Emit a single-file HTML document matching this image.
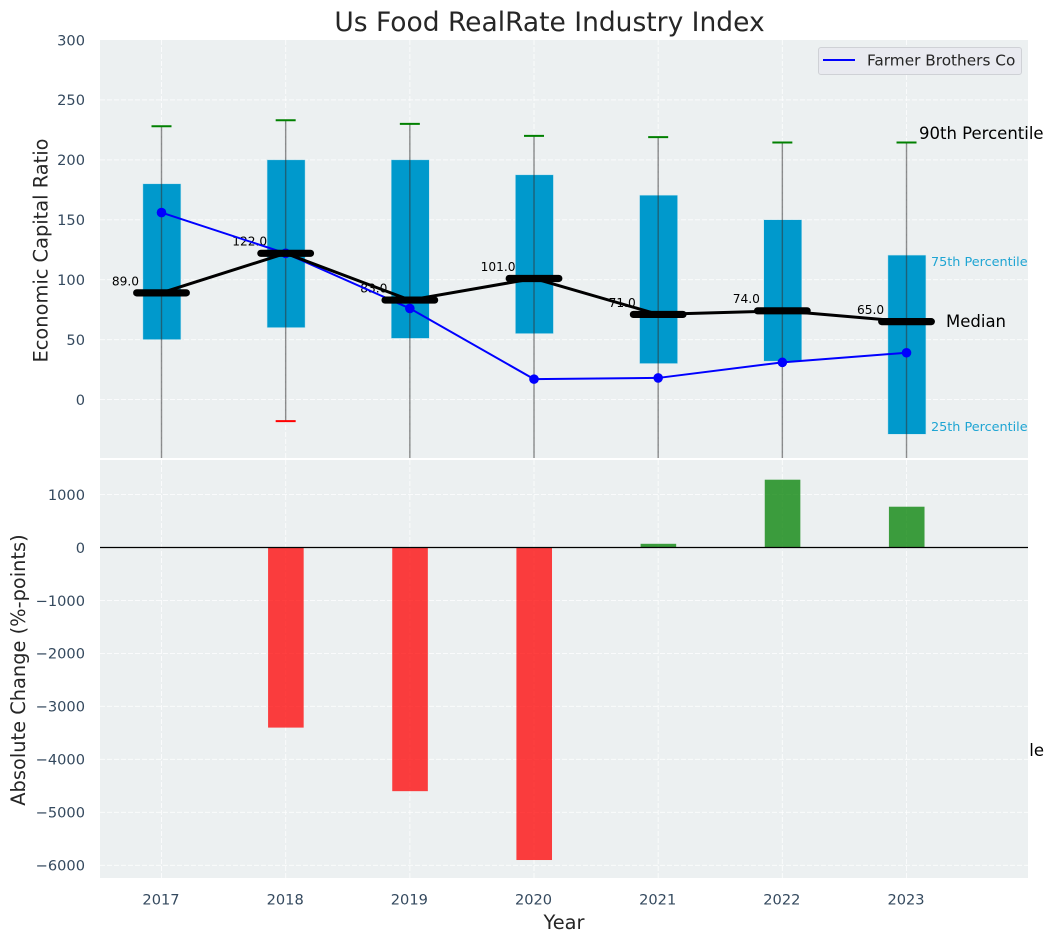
<!DOCTYPE html>
<html>
<head>
<meta charset="utf-8">
<title>Us Food RealRate Industry Index</title>
<style>
html,body{margin:0;padding:0;background:#fff;}
svg{display:block;font-family:"DejaVu Sans","Liberation Sans",sans-serif;}
</style>
</head>
<body>
<svg id="chart" xmlns="http://www.w3.org/2000/svg" width="1054" height="942" viewBox="0 0 1054 942">
<defs>
<clipPath id="clipTop"><rect x="100" y="40" width="928" height="418"/></clipPath>
<clipPath id="clipBottom"><rect x="100" y="460" width="928" height="418"/></clipPath>
</defs>
<rect x="0" y="0" width="1054" height="942" fill="#ffffff"/>
<text x="1044" y="756" text-anchor="end" font-size="16.5" fill="#000">10th Percentile</text>
<rect x="100" y="40" width="928" height="418" fill="#ecf0f1"/>
<rect x="100" y="460" width="928" height="418" fill="#ecf0f1"/>
<g id="gridLayer"></g>
<g id="lowerLayer" clip-path="url(#clipBottom)"></g>
<g id="upperLayer"></g>
<g id="tickLayer"></g>
<text x="549.5" y="31" text-anchor="middle" font-size="26.5" fill="#262626">Us Food RealRate Industry Index</text>
<text transform="translate(47.5,250.5) rotate(-90)" text-anchor="middle" font-size="19.4" fill="#262626">Economic Capital Ratio</text>
<text transform="translate(25,670) rotate(-90)" text-anchor="middle" font-size="19.4" fill="#262626">Absolute Change (%-points)</text>
<text x="564" y="929" text-anchor="middle" font-size="19.4" fill="#262626">Year</text>
<text x="919" y="139" font-size="16.5" fill="#000">90th Percentile</text>
<text x="946" y="327" font-size="16.5" fill="#000">Median</text>
<text x="931" y="266" font-size="12.8" fill="#1fa5d3">75th Percentile</text>
<text x="931" y="431" font-size="12.8" fill="#1fa5d3">25th Percentile</text>
<g>
<rect x="818.5" y="47.5" width="203" height="27" rx="2.5" fill="#e9eaf0" stroke="#cfd1d6" stroke-width="1"/>
<line x1="823" y1="60" x2="855" y2="60" stroke="#0000ff" stroke-width="2"/>
<text x="867" y="65.5" font-size="15.3" fill="#262626">Farmer Brothers Co</text>
</g>
</svg>
<script>
const years = [2017, 2018, 2019, 2020, 2021, 2022, 2023];
const q25 = [50, 60, 51, 55, 30, 32, -29];
const q75 = [180, 200, 200, 187.5, 170.5, 150, 120.5];
const p90 = [228, 233, 230, 220, 219, 214.5, 214.5];
const p10 = [-70, -18, -75, -80, -70, -75, -90];
const medians = [89, 122, 83, 101, 71, 74, 65];
const companyValues = [156, 122, 76, 17, 18, 31, 39];
const changeValues = [0, -3400, -4600, -5900, 70, 1280, 770];
const upperTicks = [0, 50, 100, 150, 200, 250, 300];
const lowerTicks = [1000, 0, -1000, -2000, -3000, -4000, -5000, -6000];

const NS = 'http://www.w3.org/2000/svg';
const xScale = v => 161.5 + (v - 2017) * 124.17;
const yUpper = v => 399.5 - v * 1.1983;
const yLower = v => 547.5 - v * 0.05297;
const svg = document.getElementById('chart');
const gridLayer = document.getElementById('gridLayer');
const lowerLayer = document.getElementById('lowerLayer');
const upperLayer = document.getElementById('upperLayer');
const tickLayer = document.getElementById('tickLayer');
const inner = document.createElementNS(NS, 'g');
inner.setAttribute('clip-path', 'url(#clipTop)');


upperLayer.appendChild(inner);

function mk(tag, attrs, parent) {
  const e = document.createElementNS(NS, tag);
  for (const k in attrs) e.setAttribute(k, attrs[k]);
  parent.appendChild(e);
  return e;
}
const fmt = v => String(v).replace('-', '\u2212');
const gridStyle = {stroke: '#ffffff', 'stroke-width': 1, 'stroke-dasharray': '5 2', 'stroke-opacity': 0.75};

upperTicks.forEach(t => {
  const y = yUpper(t);
  if (t < 300) {
    const el = mk('line', {x1: 100, x2: 1028, y1: y, y2: y, ...gridStyle}, gridLayer);
    
    
  }
  const lab = mk('text', {x: 85, y: y + 5.3, 'text-anchor': 'end', 'font-size': 14.6, fill: '#34495e'}, tickLayer);
  
  
  lab.textContent = fmt(t);
});
lowerTicks.forEach(t => {
  const y = yLower(t);
  const el = mk('line', {x1: 100, x2: 1028, y1: y, y2: y, ...gridStyle}, gridLayer);
  
  
  const lab = mk('text', {x: 85, y: y + 5.3, 'text-anchor': 'end', 'font-size': 14.6, fill: '#34495e'}, tickLayer);
  
  
  lab.textContent = fmt(t);
});
years.forEach(yr => {
  const x = xScale(yr);
  const a = mk('line', {x1: x, x2: x, y1: 40, y2: 458, ...gridStyle}, gridLayer);
  
  
  const b = mk('line', {x1: x, x2: x, y1: 460, y2: 878, ...gridStyle}, gridLayer);
  
  
  const lab = mk('text', {x: x - 0.5, y: 904.5, 'text-anchor': 'middle', 'font-size': 14.6, fill: '#34495e'}, tickLayer);
  
  
  lab.textContent = yr;
});

/* lower panel */
changeValues.forEach((v, i) => {
  if (v === 0) return;
  const x = xScale(years[i]);
  const y0 = yLower(0), y1 = yLower(v);
  const bar = mk('rect', {x: x - 17.6, y: Math.min(y0, y1), width: 35.6, height: Math.abs(y1 - y0),
    fill: v < 0 ? '#ff0000' : '#008000', 'fill-opacity': 0.75}, lowerLayer);
  
  
});
const zero = mk('line', {x1: 100, x2: 1028, y1: yLower(0), y2: yLower(0), stroke: '#000', 'stroke-width': 1.2}, lowerLayer);



/* upper panel */
years.forEach((yr, i) => {
  const x = xScale(yr);
  const box = mk('rect', {x: x - 18.6, y: yUpper(q75[i]), width: 38, height: yUpper(q25[i]) - yUpper(q75[i]), fill: '#0099cc', stroke: '#bfe3ef', 'stroke-width': 0.5}, inner);
  
  
  const whisk = mk('line', {x1: x, x2: x, y1: yUpper(p90[i]), y2: yUpper(p10[i]), stroke: '#333', 'stroke-opacity': 0.55, 'stroke-width': 1.4}, inner);
  
  
  const cap = mk('line', {x1: x - 10, x2: x + 10, y1: yUpper(p90[i]), y2: yUpper(p90[i]), stroke: '#008000', 'stroke-width': 2}, inner);
  
  
  const low = mk('line', {x1: x - 10, x2: x + 10, y1: yUpper(p10[i]), y2: yUpper(p10[i]), stroke: '#ff0000', 'stroke-width': 2}, inner);
  
  
  const lab = mk('text', {x: x - 36, y: yUpper(medians[i]) - 7.6, 'text-anchor': 'middle', 'font-size': 12.2, fill: '#000'}, inner);
  
  
  lab.textContent = medians[i].toFixed(1);
});

const bluePts = years.map((yr, i) => xScale(yr) + ',' + yUpper(companyValues[i])).join(' ');
const blue = mk('polyline', {points: bluePts, fill: 'none', stroke: '#0000ff', 'stroke-width': 2}, inner);


years.forEach((yr, i) => {
  const c = mk('circle', {cx: xScale(yr), cy: yUpper(companyValues[i]), r: 4.8, fill: '#0000ff'}, inner);
  
  
});

const medPts = years.map((yr, i) => xScale(yr) + ',' + yUpper(medians[i])).join(' ');
const medLine = mk('polyline', {points: medPts, fill: 'none', stroke: '#000', 'stroke-width': 3}, inner);


years.forEach((yr, i) => {
  const y = yUpper(medians[i]);
  const m = mk('line', {x1: xScale(yr) - 24.8, x2: xScale(yr) + 24.8, y1: y, y2: y, stroke: '#000', 'stroke-width': 7.2, 'stroke-linecap': 'round'}, inner);
  
  
});
</script>
</body>
</html>
